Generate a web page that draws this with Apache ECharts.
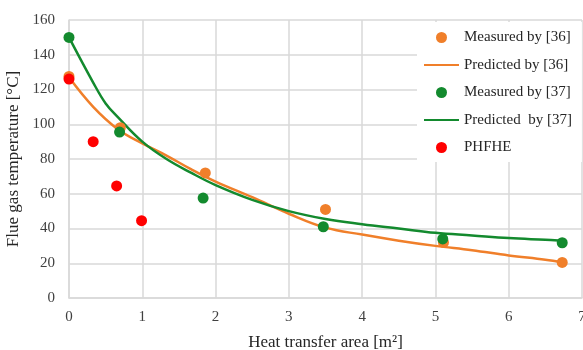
<!DOCTYPE html>
<html>
<head>
<meta charset="utf-8">
<script src="https://cdn.jsdelivr.net/npm/echarts@6/dist/echarts.min.js"></script>
<style>
html,body{margin:0;padding:0;background:#fff;}
#c{width:583px;height:350px;}
</style>
</head>
<body>
<div id="c"></div>
<script>
// Measured by [36]
var meas36X = [0, 0.70, 1.86, 3.50, 5.11, 6.73];
var meas36Y = [127.5, 98, 72, 51, 32, 20.5];
// Predicted by [36]
var pred36X = [0, 0.33, 0.67, 1, 1.33, 1.67, 2, 2.5, 3, 3.5, 4, 4.5, 5, 5.5, 6, 6.5, 6.73];
var pred36Y = [127, 110, 97, 89, 82, 74, 67, 58, 48.5, 40.5, 36.5, 33, 30, 27.5, 24.5, 22, 20.5];
// Measured by [37]
var meas37X = [0, 0.69, 1.83, 3.47, 5.10, 6.73];
var meas37Y = [150, 95.5, 57.5, 41, 34, 31.8];
// Predicted by [37]
var pred37X = [0, 0.33, 0.5, 0.67, 1, 1.33, 1.67, 2, 2.5, 3, 3.5, 4, 4.5, 5, 5.5, 6, 6.5, 6.73];
var pred37Y = [150, 124, 112, 104, 90, 80, 72, 65, 56.5, 50, 45.5, 42.5, 40, 37.5, 36, 34.5, 33.5, 33];
// PHFHE
var phfheX = [0, 0.33, 0.65, 0.99];
var phfheY = [126, 90, 64.5, 44.5];

function pairs(xs, ys) { return xs.map(function (x, i) { return [x, ys[i]]; }); }

var FONT = '"Liberation Serif", "Times New Roman", serif';
var ORANGE = '#F07F2A';
var GREEN = '#138A2E';
var RED = '#FF0000';

var chart = echarts.init(document.getElementById('c'), null, {renderer: 'canvas'});
chart.setOption({
  backgroundColor: '#fff',
  animation: false,
  textStyle: {fontFamily: FONT},
  grid: {left: 69, right: 1, top: 20, bottom: 52, containLabel: false, outerBoundsMode: 'none'},
  xAxis: {
    type: 'value', min: 0, max: 7, interval: 1,
    name: 'Heat transfer area [m²]', nameLocation: 'middle', nameGap: 36,
    nameTextStyle: {fontFamily: FONT, fontSize: 17, color: '#262626'},
    axisLine: {show: true, lineStyle: {color: '#D9D9D9', width: 1.5}},
    axisTick: {show: false},
    axisLabel: {fontFamily: FONT, fontSize: 15, color: '#404040', margin: 12},
    splitLine: {show: true, lineStyle: {color: '#D9D9D9', width: 1.5}}
  },
  yAxis: {
    type: 'value', min: 0, max: 160, interval: 20,
    name: 'Flue gas temperature [°C]', nameLocation: 'middle', nameGap: 39,
    nameTextStyle: {fontFamily: FONT, fontSize: 17, color: '#262626'},
    axisLine: {show: true, lineStyle: {color: '#D9D9D9', width: 1.5}},
    axisTick: {show: false},
    axisLabel: {fontFamily: FONT, fontSize: 15, color: '#404040', margin: 14},
    splitLine: {show: true, lineStyle: {color: '#D9D9D9', width: 1.5}}
  },
  legend: {
    orient: 'vertical',
    left: 417, top: 22,
    width: 160, height: 138,
    padding: [8, 10, 7, 6],
    itemGap: 12.5,
    itemWidth: 35, itemHeight: 11,
    backgroundColor: '#fff',
    textStyle: {fontFamily: FONT, fontSize: 15, color: '#262626', lineHeight: 14},
    data: [
      {name: 'Measured by [36]', icon: 'circle'},
      {name: 'Predicted by [36]', itemStyle: {opacity: 0}},
      {name: 'Measured by [37]', icon: 'circle'},
      {name: 'Predicted  by [37]', itemStyle: {opacity: 0}},
      {name: 'PHFHE', icon: 'circle'}
    ],
    z: 1
  },
  series: [
    {
      name: 'Predicted by [36]', type: 'line', data: pairs(pred36X, pred36Y),
      smooth: 0.4, symbol: 'none', showSymbol: false,
      lineStyle: {color: ORANGE, width: 2.5}, itemStyle: {color: ORANGE}, z: 3
    },
    {
      name: 'Predicted  by [37]', type: 'line', data: pairs(pred37X, pred37Y),
      smooth: 0.4, symbol: 'none', showSymbol: false,
      lineStyle: {color: GREEN, width: 2.5}, itemStyle: {color: GREEN}, z: 4
    },
    {
      name: 'Measured by [36]', type: 'scatter', data: pairs(meas36X, meas36Y),
      symbol: 'circle', symbolSize: 11, itemStyle: {color: ORANGE, opacity: 1}, z: 5
    },
    {
      name: 'Measured by [37]', type: 'scatter', data: pairs(meas37X, meas37Y),
      symbol: 'circle', symbolSize: 11, itemStyle: {color: GREEN, opacity: 1}, z: 6
    },
    {
      name: 'PHFHE', type: 'scatter', data: pairs(phfheX, phfheY),
      symbol: 'circle', symbolSize: 11, itemStyle: {color: RED, opacity: 1}, z: 7
    }
  ]
});
</script>
</body>
</html>
